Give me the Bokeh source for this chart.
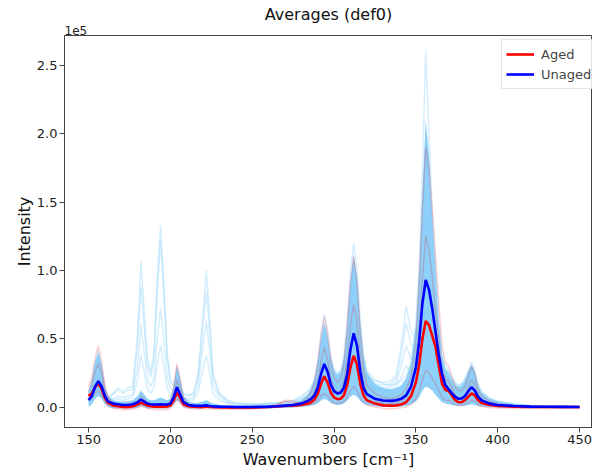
from bokeh.plotting import figure
from bokeh.models import Range1d, FixedTicker, NumeralTickFormatter, Title
from bokeh.embed import file_html
from bokeh.resources import INLINE

# Wavenumbers (cm^-1) at which the spectra are sampled
wavenumber = [150, 152, 154, 156, 158, 160, 162,
              165, 168, 171, 174, 177,
              180, 182, 184, 186, 188, 190, 192, 194, 196, 198, 200, 202, 204, 206, 208,
              211, 214, 217,
              220, 222, 224, 226,
              230, 235, 240, 250, 260, 265, 270, 275, 280,
              284, 286, 288, 290, 292, 294, 296, 298, 300, 302, 304, 306, 308, 310, 312, 314, 316, 318, 320,
              325, 330, 335, 338, 341, 344, 347, 350,
              352, 354, 356, 358, 360, 362, 364, 366, 368, 370, 372, 374, 376, 378, 380, 382, 384, 386, 388, 390,
              395, 400, 410, 420, 430, 440, 450]

# Intensities in units of 1e5
unaged_mean = [0.05, 0.08, 0.15, 0.19, 0.15, 0.08, 0.04,
               0.025, 0.02, 0.015, 0.015, 0.02,
               0.035, 0.055, 0.04, 0.025, 0.02, 0.018, 0.018, 0.02, 0.018, 0.018, 0.025, 0.07, 0.145, 0.09, 0.035,
               0.015, 0.01, 0.008,
               0.01, 0.012, 0.008, 0.005,
               0.003, 0.002, 0.0, 0.0, 0.003, 0.006, 0.01, 0.015, 0.025,
               0.045, 0.06, 0.085, 0.14, 0.24, 0.315, 0.26, 0.165, 0.115, 0.1, 0.105, 0.14, 0.24, 0.42, 0.54, 0.45, 0.26, 0.14, 0.095,
               0.06, 0.048, 0.045, 0.05, 0.06, 0.085, 0.15, 0.29,
               0.48, 0.76, 0.93, 0.86, 0.72, 0.55, 0.38, 0.24, 0.16, 0.13, 0.1, 0.075, 0.06, 0.062, 0.08, 0.115, 0.145, 0.12, 0.075, 0.05,
               0.025, 0.015, 0.007, 0.003, 0.002, 0.001, 0.0]

aged_mean = [0.08, 0.1, 0.145, 0.175, 0.13, 0.065, 0.03,
             0.012, 0.005, 0.0, 0.0, 0.005,
             0.018, 0.03, 0.022, 0.01, 0.005, 0.003, 0.003, 0.003, 0.003, 0.004, 0.012, 0.05, 0.105, 0.065, 0.02,
             0.005, 0.002, 0.0,
             0.0, 0.004, 0.002, 0.0,
             -0.002, -0.003, -0.004, -0.003, 0.0, 0.004, 0.008, 0.01, 0.015,
             0.025, 0.035, 0.055, 0.095, 0.17, 0.225, 0.18, 0.105, 0.07, 0.058, 0.06, 0.085, 0.16, 0.29, 0.375, 0.31, 0.17, 0.085, 0.05,
             0.025, 0.012, 0.01, 0.012, 0.018, 0.035, 0.08, 0.18,
             0.31, 0.5, 0.63, 0.6, 0.52, 0.44, 0.3, 0.17, 0.125, 0.118, 0.085, 0.05, 0.035, 0.035, 0.05, 0.075, 0.1, 0.085, 0.05, 0.03,
             0.015, 0.008, 0.003, 0.0, 0.0, 0.0, 0.0]

# Envelope of the dense bundle of individual unaged spectra
unaged_upper = [0.12, 0.2, 0.33, 0.4, 0.31, 0.15, 0.08,
                0.05, 0.04, 0.04, 0.04, 0.05,
                0.08, 0.12, 0.09, 0.06, 0.05, 0.05, 0.06, 0.07, 0.06, 0.05, 0.06, 0.15, 0.3, 0.2, 0.08,
                0.04, 0.03, 0.03,
                0.04, 0.05, 0.035, 0.025,
                0.015, 0.01, 0.008, 0.008, 0.012, 0.016, 0.022, 0.03, 0.05,
                0.09, 0.13, 0.2, 0.33, 0.5, 0.62, 0.52, 0.36, 0.27, 0.24, 0.26, 0.36, 0.6, 0.92, 1.12, 0.95, 0.62, 0.38, 0.26,
                0.17, 0.14, 0.13, 0.14, 0.16, 0.21, 0.32, 0.6,
                1.0, 1.6, 2.1, 1.85, 1.4, 1.0, 0.62, 0.38, 0.28, 0.25, 0.2, 0.16, 0.15, 0.16, 0.2, 0.26, 0.31, 0.26, 0.16, 0.11,
                0.06, 0.04, 0.02, 0.01, 0.006, 0.004, 0.003]

unaged_lower = [0.0, 0.02, 0.06, 0.08, 0.06, 0.02, 0.0,
                -0.01, -0.01, -0.01, -0.01, -0.01,
                -0.005, 0.005, 0.0, -0.01, -0.01, -0.01, -0.01, -0.01, -0.01, -0.01, -0.005, 0.02, 0.05, 0.03, 0.0,
                -0.01, -0.01, -0.01,
                -0.01, -0.005, -0.01, -0.01,
                -0.01, -0.012, -0.012, -0.012, -0.01, -0.008, -0.005, -0.003, 0.0,
                0.005, 0.01, 0.015, 0.025, 0.045, 0.06, 0.05, 0.03, 0.02, 0.015, 0.018, 0.025, 0.045, 0.075, 0.09, 0.075, 0.045, 0.025, 0.015,
                0.005, 0.0, -0.002, 0.0, 0.003, 0.008, 0.02, 0.04,
                0.07, 0.12, 0.15, 0.14, 0.12, 0.09, 0.06, 0.035, 0.025, 0.02, 0.015, 0.01, 0.008, 0.008, 0.01, 0.015, 0.02, 0.015, 0.008, 0.004,
                0.0, -0.003, -0.005, -0.005, -0.005, -0.005, -0.005]

# Individual faint unaged spectra standing out of the bundle
unaged_top = [0.1, 0.18, 0.32, 0.42, 0.3, 0.14, 0.07,
              0.045, 0.035, 0.035, 0.035, 0.045,
              0.07, 0.1, 0.08, 0.055, 0.045, 0.045, 0.05, 0.06, 0.05, 0.045, 0.055, 0.14, 0.3, 0.19, 0.075,
              0.035, 0.028, 0.028,
              0.035, 0.045, 0.032, 0.022,
              0.013, 0.009, 0.007, 0.007, 0.01, 0.014, 0.02, 0.028, 0.05,
              0.09, 0.13, 0.2, 0.34, 0.53, 0.68, 0.56, 0.38, 0.28, 0.25, 0.27, 0.38, 0.65, 1.0, 1.2, 1.02, 0.65, 0.4, 0.27,
              0.2, 0.17, 0.16, 0.17, 0.19, 0.23, 0.33, 0.62,
              1.05, 1.75, 2.6, 2.0, 1.45, 1.05, 0.65, 0.4, 0.3, 0.27, 0.21, 0.17, 0.16, 0.17, 0.21, 0.27, 0.33, 0.27, 0.17, 0.12,
              0.065, 0.045, 0.022, 0.012, 0.007, 0.005, 0.004]

unaged_outlier_1 = [0.05, 0.08, 0.13, 0.16, 0.13, 0.08, 0.07,
                    0.1, 0.14, 0.11, 0.14, 0.15,
                    0.55, 1.07, 0.7, 0.35, 0.26, 0.4, 0.95, 1.33, 0.9, 0.4, 0.2, 0.18, 0.2, 0.15, 0.1,
                    0.09, 0.1, 0.25,
                    0.7, 1.0, 0.65, 0.25,
                    0.1, 0.05, 0.03, 0.02, 0.03, 0.03, 0.04, 0.05, 0.08,
                    0.12, 0.15, 0.2, 0.27, 0.35, 0.4, 0.36, 0.28, 0.22, 0.2, 0.21, 0.26, 0.38, 0.55, 0.65, 0.58, 0.4, 0.28, 0.22,
                    0.19, 0.18, 0.19, 0.24, 0.45, 0.74, 0.55, 0.5,
                    0.6, 0.8, 0.95, 0.85, 0.65, 0.5, 0.38, 0.3, 0.27, 0.26, 0.22, 0.18, 0.16, 0.17, 0.2, 0.25, 0.3, 0.25, 0.15, 0.1,
                    0.06, 0.04, 0.02, 0.01, 0.006, 0.004, 0.003]

unaged_outlier_2 = [0.05, 0.08, 0.13, 0.16, 0.13, 0.08, 0.06,
                    0.09, 0.13, 0.1, 0.12, 0.13,
                    0.45, 0.88, 0.58, 0.3, 0.22, 0.35, 0.85, 1.22, 0.82, 0.35, 0.18, 0.16, 0.18, 0.14, 0.09,
                    0.08, 0.09, 0.22,
                    0.6, 0.85, 0.55, 0.22,
                    0.09, 0.045, 0.03, 0.02, 0.025, 0.03, 0.035, 0.045, 0.07,
                    0.11, 0.14, 0.18, 0.24, 0.31, 0.36, 0.32, 0.25, 0.2, 0.18, 0.19, 0.24, 0.34, 0.5, 0.6, 0.52, 0.36, 0.25, 0.2,
                    0.17, 0.16, 0.17, 0.21, 0.38, 0.62, 0.46, 0.42,
                    0.5, 0.68, 0.82, 0.74, 0.57, 0.44, 0.33, 0.26, 0.23, 0.22, 0.19, 0.16, 0.14, 0.15, 0.17, 0.22, 0.27, 0.22, 0.13, 0.09,
                    0.05, 0.035, 0.018, 0.009, 0.005, 0.004, 0.003]

unaged_outlier_3 = [0.04, 0.07, 0.12, 0.15, 0.12, 0.07, 0.05,
                    0.06, 0.08, 0.07, 0.08, 0.09,
                    0.3, 0.6, 0.4, 0.2, 0.15, 0.22, 0.5, 0.72, 0.48, 0.22, 0.13, 0.13, 0.16, 0.12, 0.07,
                    0.06, 0.07, 0.16,
                    0.45, 0.63, 0.4, 0.16,
                    0.07, 0.035, 0.02, 0.015, 0.02, 0.025, 0.03, 0.04, 0.06,
                    0.09, 0.12, 0.16, 0.21, 0.28, 0.32, 0.28, 0.22, 0.17, 0.15, 0.16, 0.2, 0.3, 0.44, 0.52, 0.46, 0.32, 0.22, 0.17,
                    0.15, 0.14, 0.15, 0.18, 0.3, 0.45, 0.35, 0.36,
                    0.45, 0.6, 0.72, 0.65, 0.5, 0.38, 0.29, 0.23, 0.2, 0.19, 0.16, 0.13, 0.12, 0.13, 0.15, 0.19, 0.23, 0.19, 0.11, 0.08,
                    0.045, 0.03, 0.015, 0.008, 0.005, 0.003, 0.002]

unaged_outlier_4 = [0.04, 0.07, 0.12, 0.15, 0.12, 0.06, 0.04,
                    0.05, 0.06, 0.05, 0.06, 0.07,
                    0.2, 0.38, 0.26, 0.13, 0.1, 0.15, 0.32, 0.45, 0.3, 0.14, 0.09, 0.12, 0.17, 0.11, 0.06,
                    0.05, 0.05, 0.11,
                    0.28, 0.38, 0.25, 0.1,
                    0.05, 0.025, 0.015, 0.012, 0.015, 0.02, 0.025, 0.035, 0.05,
                    0.08, 0.1, 0.14, 0.19, 0.26, 0.3, 0.26, 0.2, 0.15, 0.13, 0.14, 0.18, 0.27, 0.4, 0.48, 0.42, 0.29, 0.2, 0.15,
                    0.13, 0.12, 0.13, 0.15, 0.22, 0.3, 0.25, 0.3,
                    0.42, 0.58, 0.7, 0.63, 0.48, 0.36, 0.27, 0.21, 0.18, 0.17, 0.14, 0.12, 0.11, 0.12, 0.14, 0.18, 0.22, 0.18, 0.1, 0.07,
                    0.04, 0.028, 0.014, 0.007, 0.004, 0.003, 0.002]

# Individual faint aged spectra
aged_high = [0.15, 0.22, 0.36, 0.45, 0.33, 0.16, 0.07,
             0.03, 0.01, 0.0, 0.0, 0.01,
             0.04, 0.08, 0.06, 0.03, 0.015, 0.01, 0.01, 0.01, 0.01, 0.012, 0.03, 0.14, 0.32, 0.2, 0.07,
             0.02, 0.01, 0.005,
             0.005, 0.01, 0.005, 0.0,
             -0.005, -0.005, -0.005, -0.005, 0.0, 0.005, 0.01, 0.015, 0.03,
             0.07, 0.11, 0.18, 0.32, 0.52, 0.66, 0.54, 0.34, 0.22, 0.18, 0.2, 0.32, 0.58, 0.92, 1.1, 0.92, 0.55, 0.28, 0.16,
             0.1, 0.07, 0.06, 0.07, 0.09, 0.13, 0.22, 0.48,
             0.9, 1.45, 1.9, 1.75, 1.45, 1.1, 0.75, 0.45, 0.33, 0.3, 0.22, 0.15, 0.12, 0.12, 0.15, 0.22, 0.3, 0.24, 0.13, 0.08,
             0.04, 0.025, 0.01, 0.005, 0.002, 0.0, 0.0]

aged_mid = [0.12, 0.16, 0.26, 0.32, 0.24, 0.11, 0.05,
            0.02, 0.005, -0.005, -0.01, -0.005,
            0.02, 0.05, 0.035, 0.015, 0.005, 0.0, -0.005, -0.005, -0.005, -0.003, 0.015, 0.09, 0.2, 0.12, 0.04,
            0.01, 0.0, -0.005,
            -0.005, 0.0, -0.005, -0.008,
            -0.01, -0.01, -0.012, -0.01, 0.0, 0.02, 0.04, 0.03, 0.03,
            0.05, 0.07, 0.11, 0.19, 0.33, 0.44, 0.35, 0.21, 0.13, 0.11, 0.12, 0.19, 0.35, 0.6, 0.75, 0.62, 0.36, 0.18, 0.1,
            0.05, 0.03, 0.025, 0.03, 0.04, 0.07, 0.13, 0.3,
            0.58, 0.95, 1.25, 1.15, 0.95, 0.72, 0.48, 0.28, 0.2, 0.19, 0.14, 0.09, 0.07, 0.07, 0.09, 0.14, 0.2, 0.16, 0.08, 0.05,
            0.025, 0.015, 0.005, 0.0, -0.002, -0.003, -0.003]

aged_low = [0.06, 0.07, 0.1, 0.12, 0.09, 0.04, 0.01,
            -0.005, -0.015, -0.02, -0.02, -0.015,
            -0.005, 0.005, 0.0, -0.01, -0.015, -0.018, -0.02, -0.02, -0.02, -0.018, -0.01, 0.02, 0.06, 0.03, 0.0,
            -0.01, -0.015, -0.015,
            -0.015, -0.012, -0.015, -0.015,
            -0.015, -0.015, -0.015, -0.012, -0.005, 0.01, 0.05, 0.045, 0.02,
            0.015, 0.02, 0.03, 0.05, 0.08, 0.1, 0.08, 0.05, 0.03, 0.025, 0.027, 0.04, 0.07, 0.12, 0.15, 0.12, 0.07, 0.035, 0.015,
            0.0, -0.01, -0.012, -0.01, -0.005, 0.0, 0.02, 0.06,
            0.12, 0.2, 0.27, 0.25, 0.21, 0.17, 0.12, 0.07, 0.05, 0.05, 0.035, 0.02, 0.01, 0.01, 0.02, 0.03, 0.05, 0.04, 0.015, 0.005,
            -0.005, -0.008, -0.01, -0.008, -0.01, -0.008, -0.01]

x_ticks = [150, 200, 250, 300, 350, 400, 450]
y_ticks = [0.0, 0.5, 1.0, 1.5, 2.0, 2.5]

FONT = "DejaVu Sans"
SKY = "#87CEFA"

p = figure(width=592, height=473, output_backend="svg", toolbar_location=None,
           x_range=Range1d(135.3, 457.9), y_range=Range1d(-0.15, 2.72),
           min_border_left=64, min_border_right=0, min_border_top=35, min_border_bottom=46)

# "1e5" offset text right above the frame, then the main title above it
p.add_layout(Title(text="1e5", align="left", text_font=FONT, text_font_size="12px",
                   text_font_style="normal", text_color="#222222", standoff=1), "above")
p.add_layout(Title(text="Averages (def0)", align="center", text_font=FONT, text_font_size="16px",
                   text_font_style="normal", text_color="#111111", standoff=0), "above")

p.xgrid.visible = False
p.ygrid.visible = False
p.outline_line_color = "#444444"
p.outline_line_width = 1
p.background_fill_color = "white"

# dense bundle of unaged spectra
p.varea(x=wavenumber, y1=unaged_lower, y2=unaged_upper, fill_color=SKY, fill_alpha=0.95)
for ys in [unaged_top, unaged_outlier_1, unaged_outlier_2, unaged_outlier_3, unaged_outlier_4]:
    p.line(wavenumber, ys, line_color=SKY, line_alpha=0.35, line_width=1.5)
for ys in [aged_high, aged_mid, aged_low]:
    p.line(wavenumber, ys, line_color="red", line_alpha=0.18, line_width=1.5)

p.line(wavenumber, aged_mean, line_color="red", line_width=2.6, legend_label="Aged")
p.line(wavenumber, unaged_mean, line_color="blue", line_width=2.6, legend_label="Unaged")

for ax in [p.xaxis[0], p.yaxis[0]]:
    ax.axis_line_color = "#444444"
    ax.major_tick_line_color = "#444444"
    ax.major_tick_out = 5
    ax.major_tick_in = 0
    ax.minor_tick_line_color = None
    ax.major_label_text_font = FONT
    ax.major_label_text_font_size = "13px"
    ax.major_label_text_color = "#222222"
    ax.axis_label_text_font = FONT
    ax.axis_label_text_font_size = "16px"
    ax.axis_label_text_font_style = "normal"
    ax.axis_label_text_color = "#111111"

p.xaxis.ticker = FixedTicker(ticks=x_ticks)
p.yaxis.ticker = FixedTicker(ticks=y_ticks)
p.yaxis.formatter = NumeralTickFormatter(format="0.0")
p.xaxis.axis_label = "Wavenumbers [cm\u207b\u00b9]"
p.yaxis.axis_label = "Intensity"
p.xaxis.major_label_standoff = 2
p.yaxis.major_label_standoff = 2
p.xaxis.axis_label_standoff = 3
p.yaxis.axis_label_standoff = 0

lg = p.legend[0]
lg.location = (437, 338)
lg.label_text_font = FONT
lg.label_text_font_size = "13px"
lg.glyph_width = 28
lg.glyph_height = 20
lg.label_height = 20
lg.label_standoff = 7
lg.spacing = 0
lg.padding = 4
lg.margin = 0
lg.border_line_color = "#cccccc"
lg.background_fill_alpha = 0.85

open("out.html", "w").write(file_html(p, INLINE))
